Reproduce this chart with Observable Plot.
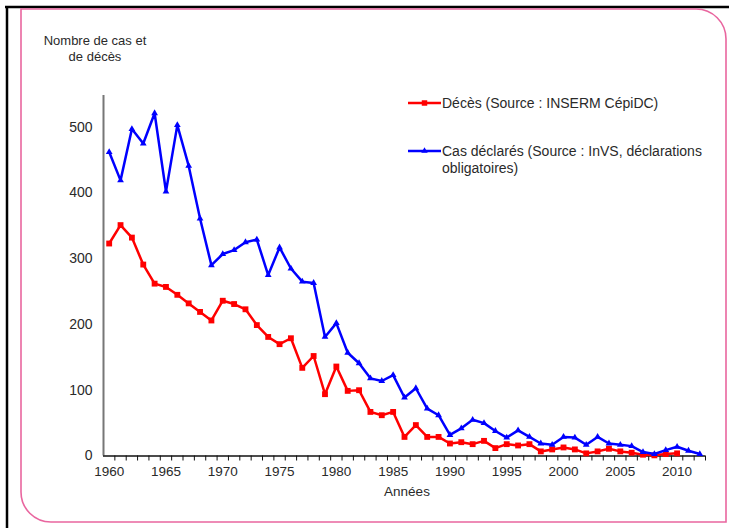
<!DOCTYPE html>
<html>
<head>
<meta charset="utf-8">
<script src="https://cdn.jsdelivr.net/npm/d3@7"></script>
<script src="https://cdn.jsdelivr.net/npm/@observablehq/plot@0.6"></script>
<style>
  html, body { margin: 0; padding: 0; background: white; }
  #chart svg { display: block; }
</style>
</head>
<body>
<div id="chart"></div>
<script>
const years = [1960,1961,1962,1963,1964,1965,1966,1967,1968,1969,
  1970,1971,1972,1973,1974,1975,1976,1977,1978,1979,
  1980,1981,1982,1983,1984,1985,1986,1987,1988,1989,
  1990,1991,1992,1993,1994,1995,1996,1997,1998,1999,
  2000,2001,2002,2003,2004,2005,2006,2007,2008,2009,
  2010,2011,2012];

const casDeclares = [462,419,497,475,521,402,503,441,361,290,
  307,313,325,329,275,317,285,265,263,181,
  202,157,141,118,114,123,89,103,72,62,
  32,42,55,50,38,28,39,29,19,17,
  29,28,17,29,19,17,15,6,3,9,
  14,8,3];

const deces = [323,351,332,291,262,257,245,232,219,206,
  236,231,223,199,181,170,179,134,152,94,
  136,99,100,67,62,67,29,47,29,29,
  19,21,18,23,12,18,16,18,7,10,
  13,10,4,7,11,7,5,2,1,3,
  4];

const yTicks = [0,100,200,300,400,500];
const xLabelYears = [1960,1965,1970,1975,1980,1985,1990,1995,2000,2005,2010];

const seriesCas = { name: "Cas déclarés (Source : InVS, déclarations", name2: "obligatoires)", color: "#0000ff" };
const seriesDeces = { name: "Décès (Source : INSERM CépiDC)", color: "#ff0000" };
const yTitle = ["Nombre de cas et", "de décès"];
const xTitle = "Années";

const casData = years.map((y, i) => ({year: y, value: casDeclares[i]}));
const decesData = deces.map((v, i) => ({year: years[i], value: v}));
// category boundaries (tick marks sit between years, as in a category axis)
const tickBounds = years.map(y => y + 0.5);

const font = "'Liberation Sans', Arial, sans-serif";
const textColor = "#2a2a2a";

const chart = Plot.plot({
  width: 729,
  height: 528,
  marginLeft: 103,
  marginRight: 24,
  marginTop: 95,
  marginBottom: 72.5,
  style: { fontFamily: font, fontSize: "13px", color: textColor, background: "white", overflow: "visible" },
  x: { domain: [1959.5, 2012.5], axis: null },
  y: { domain: [0, 548], axis: null },
  marks: [
    Plot.axisY({ ticks: yTicks, tickSize: 0, tickPadding: 11, label: null, fontSize: 14 }),
    Plot.axisX({ ticks: tickBounds, tickSize: 5, tickFormat: () => "", label: null, stroke: "#111" }),
    Plot.axisX({ ticks: xLabelYears, tickSize: 0, tickPadding: 10, tickFormat: d => String(d), label: null, fontSize: 13.5 }),
    Plot.ruleX([1959.5], { stroke: "#777", strokeWidth: 2 }),
    Plot.ruleY([0], { stroke: "#111", strokeWidth: 1.5 }),
    Plot.line(decesData, { x: "year", y: "value", stroke: seriesDeces.color, strokeWidth: 2.5 }),
    Plot.dot(decesData, { x: "year", y: "value", symbol: "square", r: 3.3, fill: seriesDeces.color }),
    Plot.line(casData, { x: "year", y: "value", stroke: seriesCas.color, strokeWidth: 2.5 }),
    Plot.dot(casData, { x: "year", y: "value", symbol: "triangle", r: 2.5, fill: seriesCas.color })
  ]
});

document.getElementById("chart").appendChild(chart);

// Decorations: borders, titles, legend
const svgSel = d3.select(chart);
const deco = svgSel.insert("g", ":first-child");
deco.append("line").attr("x1", 5).attr("x2", 729).attr("y1", 7).attr("y2", 7)
  .attr("stroke", "#000").attr("stroke-width", 2.5);
deco.append("line").attr("x1", 7).attr("x2", 7).attr("y1", 6).attr("y2", 528)
  .attr("stroke", "#000").attr("stroke-width", 2.5);
deco.append("path")
  .attr("d", "M21,9 H696 A30,30 0 0 1 726,39 V522 H51 A30,30 0 0 1 21,492 Z")
  .attr("fill", "white").attr("stroke", "#e9669f").attr("stroke-width", 1.6);

const titles = svgSel.append("g").attr("font-family", font).attr("font-size", 13).attr("fill", textColor).attr("text-anchor", "middle");
titles.append("text").attr("x", 95).attr("y", 40.5).attr("dy", "0.35em").text(yTitle[0]);
titles.append("text").attr("x", 95).attr("y", 56.5).attr("dy", "0.35em").text(yTitle[1]);
titles.append("text").attr("x", 407).attr("y", 491).attr("dy", "0.35em").attr("font-size", 13.5).text(xTitle);

const leg = svgSel.append("g").attr("font-family", font).attr("font-size", 14).attr("fill", textColor).attr("text-anchor", "start");
leg.append("line").attr("x1", 408).attr("x2", 441).attr("y1", 103).attr("y2", 103)
  .attr("stroke", seriesDeces.color).attr("stroke-width", 2.5);
leg.append("path").attr("d", d3.symbol(d3.symbolSquare, 30)()).attr("transform", "translate(424.5,103)").attr("fill", seriesDeces.color);
leg.append("text").attr("x", 442).attr("y", 103).attr("dy", "0.35em").text(seriesDeces.name);
leg.append("line").attr("x1", 408).attr("x2", 441).attr("y1", 151).attr("y2", 151)
  .attr("stroke", seriesCas.color).attr("stroke-width", 2.5);
leg.append("path").attr("d", d3.symbol(d3.symbolTriangle, 18)()).attr("transform", "translate(424.5,151)").attr("fill", seriesCas.color);
leg.append("text").attr("x", 442).attr("y", 151).attr("dy", "0.35em").text(seriesCas.name);
leg.append("text").attr("x", 442).attr("y", 168).attr("dy", "0.35em").text(seriesCas.name2);
</script>
</body>
</html>
